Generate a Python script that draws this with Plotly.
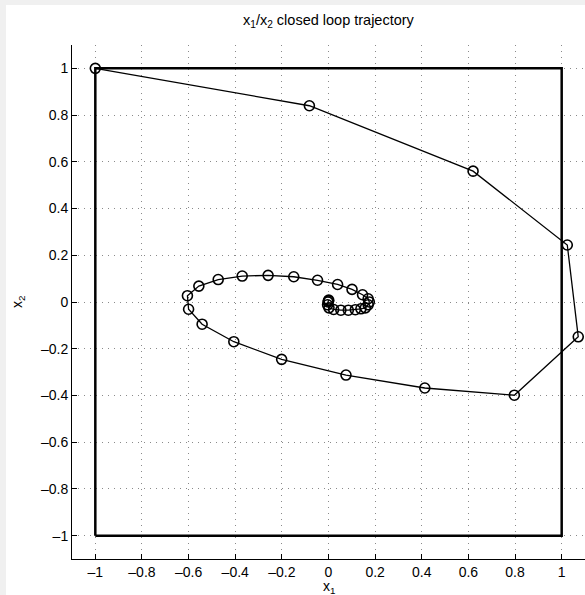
import plotly.graph_objects as go

# Trajectory states
x1 = [-1.0, -0.082, 0.62, 1.024, 1.071, 0.797, 0.413, 0.075, -0.201, -0.406,
      -0.542, -0.600, -0.605, -0.556, -0.473, -0.370, -0.259, -0.149, -0.047,
      0.039, 0.101, 0.146, 0.170, 0.175, 0.170, 0.158, 0.139, 0.115, 0.085,
      0.053, 0.022, 0.002, -0.004, -0.002, 0.0, 0.001]
x2 = [1.0, 0.84, 0.56, 0.244, -0.149, -0.399, -0.368, -0.3126, -0.2455, -0.170,
      -0.095, -0.031, 0.027, 0.068, 0.096, 0.111, 0.114, 0.108, 0.093,
      0.075, 0.054, 0.031, 0.014, 0.0, -0.012, -0.025, -0.029, -0.033, -0.035,
      -0.035, -0.032, -0.025, -0.012, 0.0, 0.005, 0.008]

# State constraint box
box_x = [-1, 1, 1, -1, -1]
box_y = [-1, -1, 1, 1, -1]

tick_vals = [-1, -0.8, -0.6, -0.4, -0.2, 0, 0.2, 0.4, 0.6, 0.8, 1]
tick_text = ["\u20131", "\u20130.8", "\u20130.6", "\u20130.4", "\u20130.2", "0",
             "0.2", "0.4", "0.6", "0.8", "1"]

FONT = "Liberation Sans, Arial, Helvetica, sans-serif"

fig = go.Figure()
fig.add_trace(go.Scatter(x=box_x, y=box_y, mode="lines",
                         line=dict(color="black", width=2.5),
                         hoverinfo="skip", showlegend=False))
fig.add_trace(go.Scatter(x=x1, y=x2, mode="lines+markers",
                         line=dict(color="black", width=1.3),
                         marker=dict(symbol="circle-open", size=10,
                                     color="black", line=dict(width=1.6)),
                         showlegend=False))

axis_common = dict(
    range=[-1.1, 1.1], tickvals=tick_vals, ticktext=tick_text,
    ticks="inside", ticklen=5, tickcolor="black", tickwidth=1,
    showline=True, linecolor="black", linewidth=1, mirror=False,
    showgrid=True, gridcolor="#8a8a8a", gridwidth=1, griddash="1px,5px",
    zeroline=False, tickfont=dict(family=FONT, size=14, color="black"),
)
fig.update_xaxes(**axis_common)
fig.update_yaxes(**axis_common)

fig.update_layout(
    width=585, height=595,
    margin=dict(l=72, r=0, t=45, b=36),
    paper_bgcolor="#f0f0f0", plot_bgcolor="white",
    font=dict(family=FONT, size=14, color="black"),
    shapes=[dict(type="rect", xref="paper", yref="paper",
                 x0=-66/513, x1=1.2, y0=-0.2, y1=1 + 40/514,
                 fillcolor="white", line=dict(width=0), layer="below")],
    annotations=[
        dict(text="x<sub>1</sub>/x<sub>2</sub> closed loop trajectory",
             xref="paper", yref="paper", x=0.5, y=1, yanchor="bottom",
             yshift=13, showarrow=False,
             font=dict(family=FONT, size=14.5, color="black")),
        dict(text="x<sub>1</sub>", xref="paper", yref="paper", x=0.5, y=0,
             yanchor="top", yshift=-17, showarrow=False,
             font=dict(family=FONT, size=14, color="black")),
        dict(text="x<sub>2</sub>", xref="paper", yref="paper", x=0, y=0.5,
             xanchor="right", xshift=-43, textangle=-90, showarrow=False,
             font=dict(family=FONT, size=14, color="black")),
    ],
)

fig.write_html("out.html",
               config={"displayModeBar": False},
               post_script="document.body.style.margin='0';"
                           "document.body.style.overflow='hidden';")
